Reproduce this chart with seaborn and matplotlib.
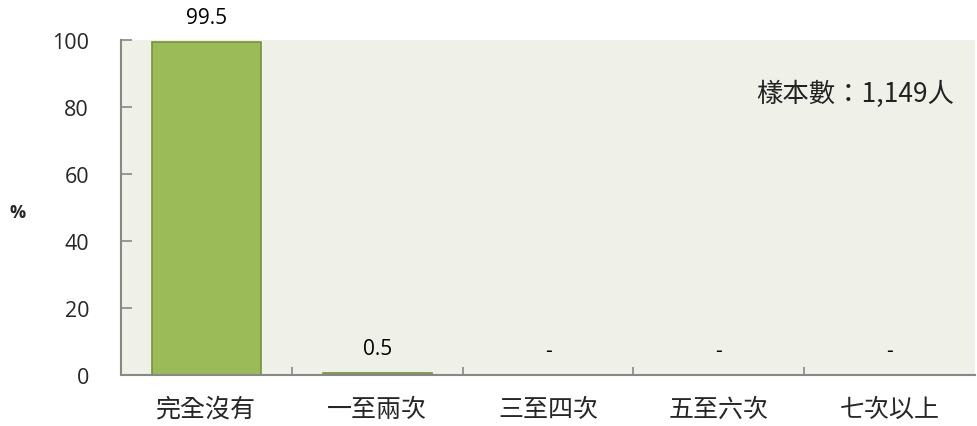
import matplotlib
matplotlib.use("Agg")
import matplotlib.pyplot as plt
import seaborn as sns
import pandas as pd
from matplotlib.ticker import FixedLocator

categories = ["完全沒有", "一至兩次", "三至四次", "五至六次", "七次以上"]
values = [99.5, 0.5, 0, 0, 0]
labels = ["99.5", "0.5", "-", "-", "-"]
yticks = [0, 20, 40, 60, 80, 100]

sns.set_theme(style="white")
plt.rcParams['font.family'] = ['Noto Sans CJK TC', 'DejaVu Sans']

df = pd.DataFrame({"cat": categories, "val": values})

fig = plt.figure(figsize=(9.77, 4.27), dpi=100)
ax = fig.add_axes([121/977, 1-376/427, (975-121)/977, (376-41)/427])
ax.set_facecolor("#eff1e9")

sns.barplot(data=df, x="cat", y="val", ax=ax, color="#9bbb59",
            edgecolor="#76923c", linewidth=1.2, width=0.64, saturation=1)

ax.set_ylim(0, 100)
ax.set_xlim(-0.5, 4.5)
ax.set_yticks(yticks)
ax.set_yticklabels([str(t) for t in yticks], fontsize=15.5, family=['Open Sans', 'DejaVu Sans'])
ax.set_xticks(range(len(categories)))
ax.set_xticklabels(categories, fontsize=18, fontweight='light')
ax.tick_params(axis='x', length=0, pad=15)
ax.tick_params(axis='y', direction='in', length=8, width=1.2, color='#888888', pad=23, left=True)

ax.xaxis.set_minor_locator(FixedLocator([0.5, 1.5, 2.5, 3.5]))
ax.tick_params(axis='x', which='minor', direction='in', length=6, width=1.2, color='#888888', bottom=True)

for s in ['top', 'right']:
    ax.spines[s].set_visible(False)
for s in ['left', 'bottom']:
    ax.spines[s].set_color('#888888')
    ax.spines[s].set_linewidth(1.5)

ax.set_xlabel("")
ax.set_ylabel("")

for i, (v, lab) in enumerate(zip(values, labels)):
    ax.text(i, v + 7.3, lab, ha='center', va='center', fontsize=15,
            family=['Open Sans', 'DejaVu Sans'], color='black')

fig.text(18/977, 1-213/427, "%", ha='center', va='center', fontsize=13,
         fontweight='bold', family=['Open Sans', 'DejaVu Sans'])

ax.text(0.975, 0.84, "樣本數：1,149人", transform=ax.transAxes, ha='right',
        va='center', fontsize=19, fontweight='light', color='#222222')

fig.savefig("out.png", dpi=100)
